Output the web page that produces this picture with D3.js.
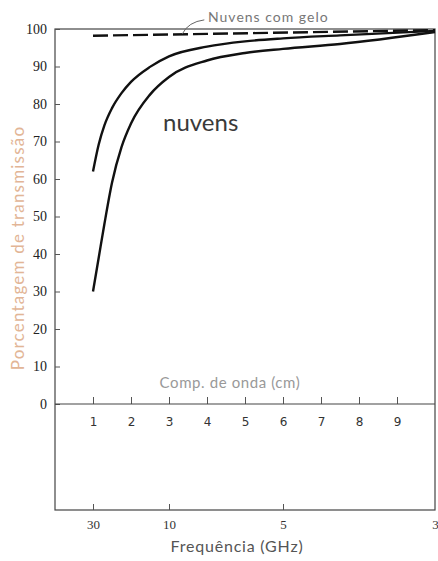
<!DOCTYPE html>
<html>
<head>
<meta charset="utf-8">
<script src="https://cdn.jsdelivr.net/npm/d3@7"></script>
<style>
  body { margin: 0; background: #fff; }
  svg { display: block; }
</style>
</head>
<body>
<svg></svg>
<script>
const WIDTH = 438;
const HEIGHT = 561;

// wavelength (cm) sample points shared by both cloud curves
const wavelength = [1, 1.15, 1.3, 1.5, 1.75, 2, 2.5, 3, 4, 5, 6, 7.5, 10];
const nuvensUpper = [62, 69.2, 74.3, 78.9, 82.9, 85.9, 89.9, 92.7, 95.3, 96.7, 97.5, 98.3, 99.5];
const nuvensLower = [30, 39, 48, 59, 68.5, 74.8, 82.5, 87.2, 91.6, 93.6, 94.7, 96, 99.2];
// ice clouds: nearly flat dashed line
const geloWavelength = [1, 10];
const gelo = [98.2, 99.7];

const yTicks = [0, 10, 20, 30, 40, 50, 60, 70, 80, 90, 100];
const wlTicks = [1, 2, 3, 4, 5, 6, 7, 8, 9];
const freqTicks = [30, 10, 5, 3]; // GHz, sits at wavelength = 30 / f

const svg = d3.select('svg')
    .attr('width', WIDTH)
    .attr('height', HEIGHT);

const LEFT = 55, RIGHT = 435, TOP = 29, ZERO_Y = 404, BOTTOM = 510;

const x = d3.scaleLinear().domain([0, 10]).range([LEFT, RIGHT]);
const y = d3.scaleLinear().domain([0, 100]).range([ZERO_Y, TOP]);

// frame
svg.append('rect')
    .attr('x', LEFT).attr('y', TOP)
    .attr('width', RIGHT - LEFT).attr('height', BOTTOM - TOP)
    .attr('fill', 'none').attr('stroke', '#444').attr('stroke-width', 1.2);

// left axis
const leftAxis = d3.axisLeft(y).tickValues(yTicks).tickSize(-5).tickPadding(8);
svg.append('g').attr('id', 'left-axis')
    .attr('transform', 'translate(' + LEFT + ',0)')
    .call(leftAxis)
    .call(g => g.select('.domain').remove())
    .call(g => g.selectAll('line').attr('stroke', '#555'))
    .call(g => g.selectAll('text')
        .attr('font-family', 'Liberation Serif, serif')
        .attr('font-size', 14)
        .attr('fill', '#222'));

// wavelength axis on the zero line, ticks pointing up
const wlAxis = d3.axisBottom(x).tickValues(wlTicks).tickSize(-7).tickPadding(9);
svg.append('g').attr('id', 'wl-axis')
    .attr('transform', 'translate(0,' + ZERO_Y + ')')
    .call(wlAxis)
    .call(g => g.select('.domain').remove())
    .call(g => g.selectAll('line').attr('stroke', '#555'))
    .call(g => g.selectAll('text')
        .attr('dy', '1.1em')
        .attr('font-family', 'DejaVu Sans, sans-serif')
        .attr('font-size', 12)
        .attr('fill', '#333'));

svg.append('line')
    .attr('x1', LEFT).attr('x2', RIGHT)
    .attr('y1', ZERO_Y).attr('y2', ZERO_Y)
    .attr('stroke', '#444').attr('stroke-width', 1.2);

// frequency axis along the bottom
const freqAxis = d3.axisBottom(x)
    .tickValues(freqTicks.map(f => 30 / f))
    .tickFormat((d, i) => freqTicks[i])
    .tickSize(-6).tickPadding(10);
svg.append('g').attr('id', 'freq-axis')
    .attr('transform', 'translate(0,' + BOTTOM + ')')
    .call(freqAxis)
    .call(g => g.select('.domain').remove())
    .call(g => g.selectAll('line').attr('stroke', '#555')
        .attr('opacity', (d, i) => i === freqTicks.length - 1 ? 0 : 1))
    .call(g => g.selectAll('text')
        .attr('font-family', 'Liberation Serif, serif')
        .attr('font-size', 13)
        .attr('fill', '#333'));

// curves
const line = d3.line()
    .x(d => x(d[0]))
    .y(d => y(d[1]))
    .curve(d3.curveMonotoneX);

svg.append('path')
    .attr('d', line(d3.zip(wavelength, nuvensUpper)))
    .attr('fill', 'none').attr('stroke', '#111').attr('stroke-width', 2.4);

svg.append('path')
    .attr('d', line(d3.zip(wavelength, nuvensLower)))
    .attr('fill', 'none').attr('stroke', '#111').attr('stroke-width', 2.4);

svg.append('path')
    .attr('d', line(d3.zip(geloWavelength, gelo)))
    .attr('fill', 'none').attr('stroke', '#111').attr('stroke-width', 2.4)
    .attr('stroke-dasharray', '15,5');

// leader for the ice cloud label
const lx = x(3.35), ly = y(98.7);
svg.append('path')
    .attr('d', 'M' + lx + ',' + ly + ' Q' + (lx + 6) + ',' + (ly - 12) + ' ' + (lx + 22) + ',' + (ly - 14))
    .attr('fill', 'none').attr('stroke', '#666').attr('stroke-width', 1);

svg.append('text')
    .attr('x', 208).attr('y', 22)
    .attr('font-family', 'Lato, sans-serif')
    .attr('font-size', 14)
    .attr('letter-spacing', 1)
    .attr('fill', '#777')
    .text('Nuvens com gelo');

svg.append('text')
    .attr('x', 163).attr('y', 131)
    .attr('font-family', 'Lato, sans-serif')
    .attr('font-size', 24)
    .attr('fill', '#3a3a3a')
    .text('nuvens');

// axis titles
svg.append('text')
    .attr('x', 230).attr('y', 388)
    .attr('text-anchor', 'middle')
    .attr('font-family', 'Lato, sans-serif')
    .attr('font-size', 15)
    .attr('letter-spacing', 0.6)
    .attr('fill', '#999')
    .text('Comp. de onda (cm)');

svg.append('text')
    .attr('x', 237).attr('y', 552)
    .attr('text-anchor', 'middle')
    .attr('font-family', 'Lato, sans-serif')
    .attr('font-size', 16)
    .attr('letter-spacing', 0.8)
    .attr('fill', '#555')
    .text('Frequência (GHz)');

svg.append('text')
    .attr('transform', 'translate(24,248) rotate(-90)')
    .attr('text-anchor', 'middle')
    .attr('font-family', 'Lato, sans-serif')
    .attr('font-size', 17)
    .attr('letter-spacing', 1.2)
    .attr('fill', '#e2b596')
    .text('Porcentagem de transmissão');
</script>
</body>
</html>
